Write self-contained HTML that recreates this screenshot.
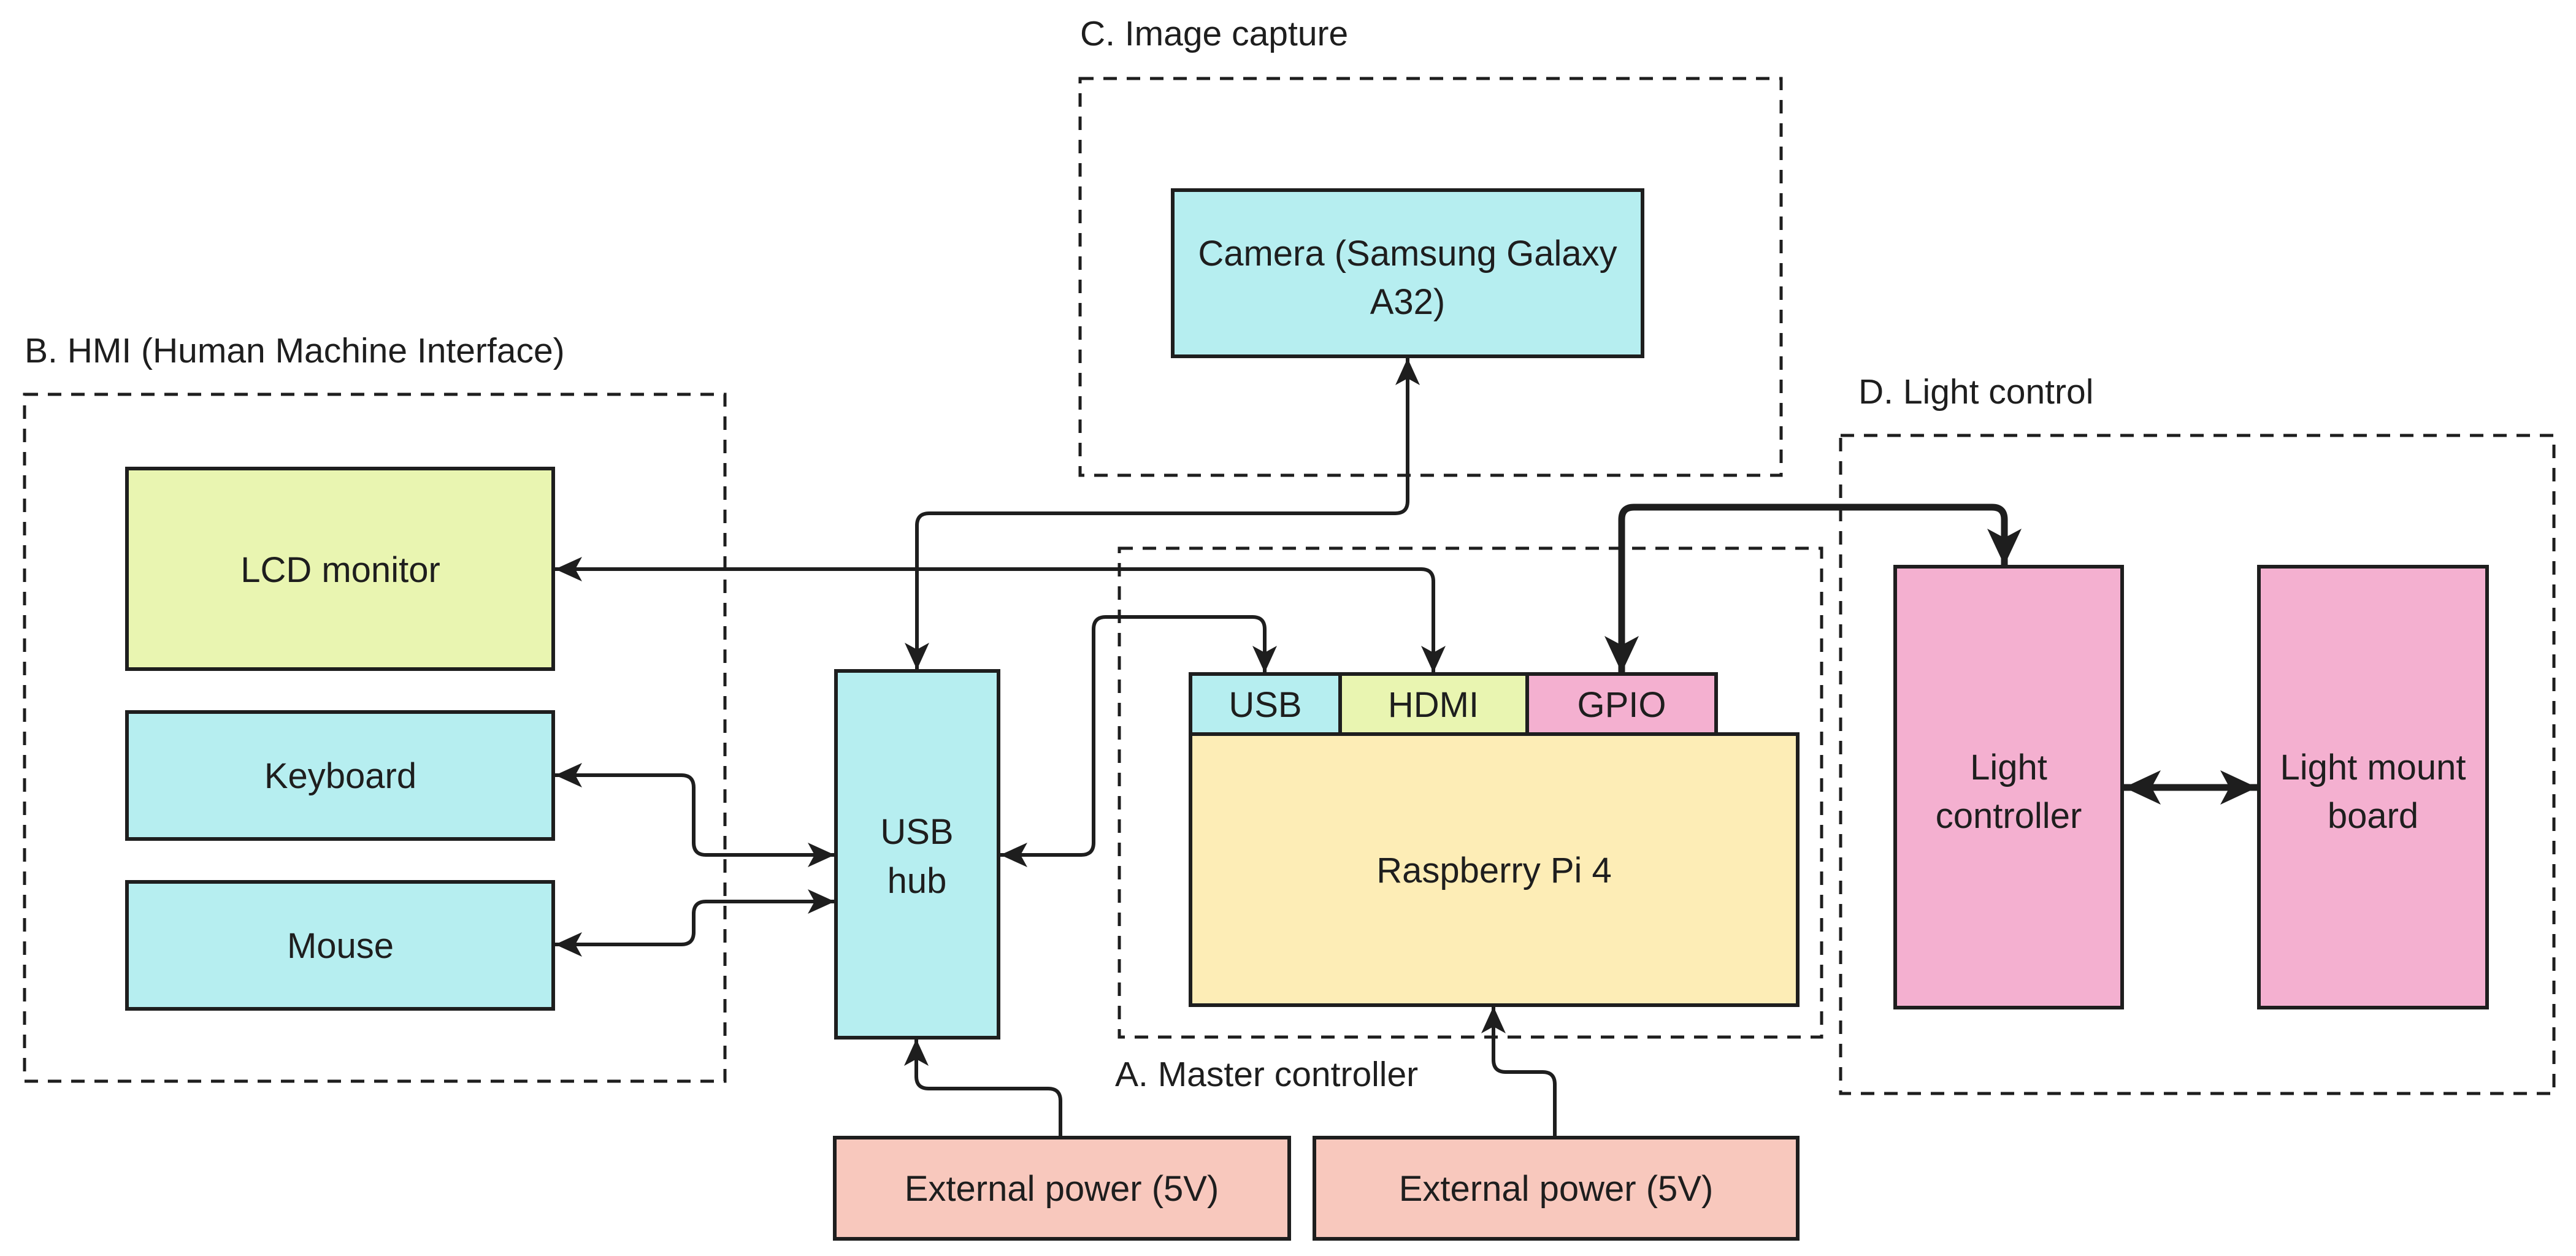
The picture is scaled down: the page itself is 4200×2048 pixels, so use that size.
<!DOCTYPE html>
<html><head><meta charset="utf-8"><style>
html,body{margin:0;padding:0;background:#fff;}
svg{display:block;}
text{font-family:"Liberation Sans",sans-serif;fill:#1e1e1e;}
</style></head><body>
<svg width="4200" height="2048" viewBox="0 0 4200 2048" xmlns="http://www.w3.org/2000/svg">
<defs>
<marker id="a" viewBox="0 0 44 40" refX="44" refY="20" markerWidth="44" markerHeight="40" markerUnits="userSpaceOnUse" orient="auto-start-reverse">
<path d="M44 20 L0 0 L11 20 L0 40 Z" fill="#1e1e1e"/></marker>
<marker id="b" viewBox="0 0 60 56" refX="60" refY="28" markerWidth="60" markerHeight="56" markerUnits="userSpaceOnUse" orient="auto-start-reverse">
<path d="M60 28 L0 0 L15 28 L0 56 Z" fill="#1e1e1e"/></marker>
</defs>
<g fill="none" stroke="#1e1e1e" stroke-width="5" stroke-dasharray="22 16">
<rect x="40" y="643" width="1142" height="1120"/>
<rect x="1761" y="128" width="1143" height="647"/>
<rect x="1825" y="894" width="1145" height="797"/>
<rect x="3001" y="710" width="1163" height="1073"/>
</g>
<g font-size="57">
<text x="40" y="591">B. HMI (Human Machine Interface)</text>
<text x="1761" y="74">C. Image capture</text>
<text x="1818" y="1771">A. Master controller</text>
<text x="3030" y="658">D. Light control</text>
</g>
<g stroke="#1e1e1e" stroke-width="6">
<rect x="207" y="764" width="695" height="327" fill="#e9f5b1"/>
<rect x="207" y="1161" width="695" height="207" fill="#b6eef0"/>
<rect x="207" y="1438" width="695" height="207" fill="#b6eef0"/>
<rect x="1363" y="1094" width="265" height="598" fill="#b6eef0"/>
<rect x="1912" y="310" width="766" height="271" fill="#b6eef0"/>
<rect x="1941" y="1197" width="990" height="442" fill="#fdedb6"/>
<rect x="1941" y="1099" width="244" height="98" fill="#b6eef0"/>
<rect x="2185" y="1099" width="305" height="98" fill="#e9f5b1"/>
<rect x="2490" y="1099" width="308" height="98" fill="#f4b0d0"/>
<rect x="3090" y="924" width="370" height="719" fill="#f4b0d0"/>
<rect x="3683" y="924" width="372" height="719" fill="#f4b0d0"/>
<rect x="1361" y="1855" width="741" height="165" fill="#f8c8bd"/>
<rect x="2143" y="1855" width="788" height="165" fill="#f8c8bd"/>
</g>
<g font-size="58" text-anchor="middle">
<text x="555" y="949">LCD monitor</text>
<text x="555" y="1285">Keyboard</text>
<text x="555" y="1562">Mouse</text>
<text x="1495" y="1376">USB</text>
<text x="1495" y="1456">hub</text>
<text x="2295" y="433">Camera (Samsung Galaxy</text>
<text x="2295" y="512">A32)</text>
<text x="2063" y="1169">USB</text>
<text x="2337" y="1169">HDMI</text>
<text x="2644" y="1169">GPIO</text>
<text x="2436" y="1439">Raspberry Pi 4</text>
<text x="3275" y="1271">Light</text>
<text x="3275" y="1350">controller</text>
<text x="3869" y="1271">Light mount</text>
<text x="3869" y="1350">board</text>
<text x="1731" y="1958">External power (5V)</text>
<text x="2537" y="1958">External power (5V)</text>
</g>
<g fill="none" stroke="#1e1e1e" stroke-width="6">
<path d="M905 928 L2317 928 Q2337 928 2337 948 L2337 1097" marker-start="url(#a)" marker-end="url(#a)"/>
<path d="M2295 584 L2295 817 Q2295 837 2275 837 L1515 837 Q1495 837 1495 857 L1495 1092" marker-start="url(#a)" marker-end="url(#a)"/>
<path d="M1631 1394 L1763 1394 Q1783 1394 1783 1374 L1783 1026 Q1783 1006 1803 1006 L2042 1006 Q2062 1006 2062 1026 L2062 1097" marker-start="url(#a)" marker-end="url(#a)"/>
<path d="M905 1264 L1111 1264 Q1131 1264 1131 1284 L1131 1374 Q1131 1394 1151 1394 L1361 1394" marker-start="url(#a)" marker-end="url(#a)"/>
<path d="M905 1540 L1111 1540 Q1131 1540 1131 1520 L1131 1490 Q1131 1470 1151 1470 L1361 1470" marker-start="url(#a)" marker-end="url(#a)"/>
<path d="M1729 1853 L1729 1795 Q1729 1775 1709 1775 L1514 1775 Q1494 1775 1494 1755 L1494 1694" marker-end="url(#a)"/>
<path d="M2535 1853 L2535 1768 Q2535 1748 2515 1748 L2455 1748 Q2435 1748 2435 1728 L2435 1641" marker-end="url(#a)"/>
</g>
<g fill="none" stroke="#1e1e1e" stroke-width="11">
<path d="M2644 1097 L2644 847 Q2644 827 2664 827 L3248 827 Q3268 827 3268 847 L3268 922" marker-start="url(#b)" marker-end="url(#b)"/>
<path d="M3463 1284 L3680 1284" marker-start="url(#b)" marker-end="url(#b)"/>
</g>
</svg>
</body></html>
